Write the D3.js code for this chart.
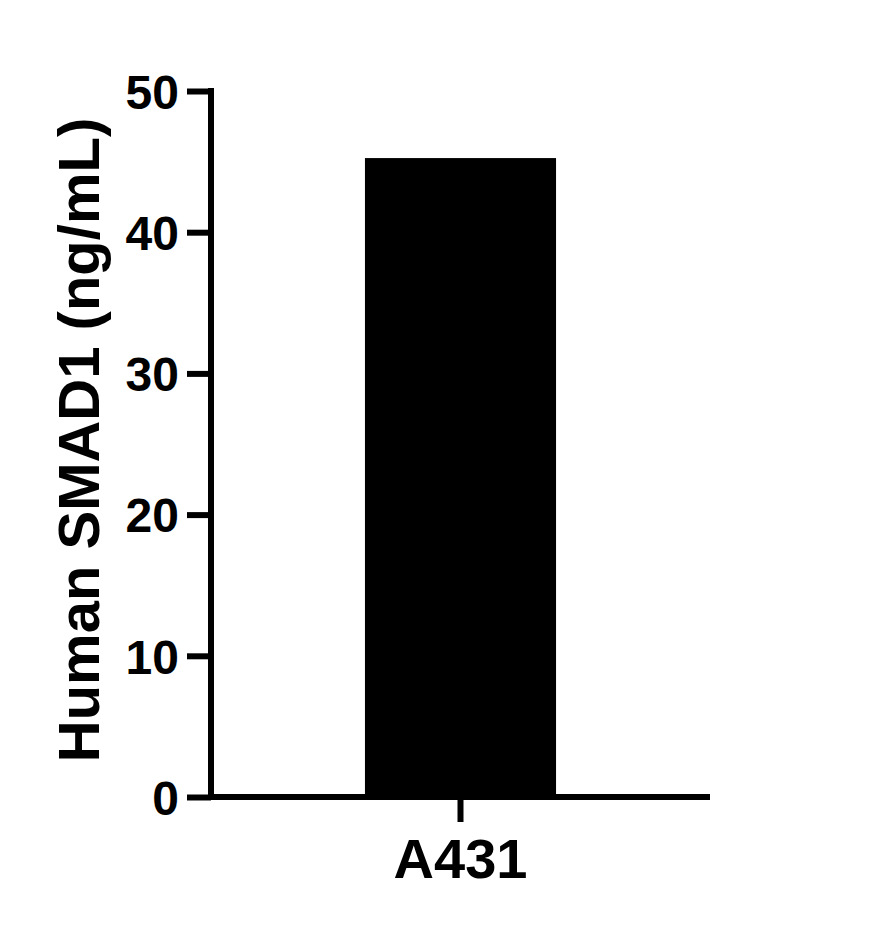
<!DOCTYPE html>
<html><head><meta charset="utf-8">
<script src="https://cdn.jsdelivr.net/npm/d3@7"></script>
<style>body{margin:0;background:#fff}svg{display:block}text{font-family:"Liberation Sans",Arial,sans-serif;font-weight:bold;fill:#000}</style>
</head><body><div id="chart"></div>
<script>
const categories = ["A431"];
const values = [45.25];
const yTicks = [0, 10, 20, 30, 40, 50];
const yTitle = "Human SMAD1 (ng/mL)";

const W = 890, H = 933;
const m = {left: 211, right: 180, top: 91, bottom: 136};
const svg = d3.select("#chart").append("svg").attr("width", W).attr("height", H);
const y = d3.scaleLinear().domain([0, 50]).range([H - m.bottom, m.top]);
const x = d3.scaleBand().domain(categories).range([m.left, W - m.right]).paddingInner(0.3).paddingOuter(0.564);

svg.selectAll("rect.bar").data(values).join("rect").attr("class","bar")
  .attr("x", (d,i) => x(categories[i])).attr("width", x.bandwidth())
  .attr("y", d => y(d)).attr("height", d => y(0) - y(d)).attr("fill", "#000");

const ya = svg.append("g").attr("transform", `translate(${m.left},0)`)
  .call(d3.axisLeft(y).tickValues(yTicks).tickSize(24).tickPadding(8).tickSizeOuter(0));
ya.select(".domain").attr("stroke-width", 6).attr("stroke","#000").attr("d", `M0,${y(0)+3}V${y(50)-3}`);
ya.selectAll(".tick line").attr("stroke-width", 6).attr("stroke","#000");
ya.selectAll(".tick text").style("font-size", "48px").attr("dy", "0.36em");

const xa = svg.append("g").attr("transform", `translate(0,${y(0)})`)
  .call(d3.axisBottom(x).tickSize(25).tickPadding(16).tickSizeOuter(0));
xa.select(".domain").attr("stroke-width", 6).attr("stroke","#000").attr("d", `M${m.left-3},0H${W - m.right}`);
xa.selectAll(".tick line").attr("stroke-width", 6).attr("stroke","#000");
xa.selectAll(".tick text").style("font-size", "56px");

svg.append("text").attr("transform", `translate(99,440) rotate(-90)`)
  .attr("text-anchor", "middle").style("font-size", "58px").text(yTitle);
</script></body></html>
